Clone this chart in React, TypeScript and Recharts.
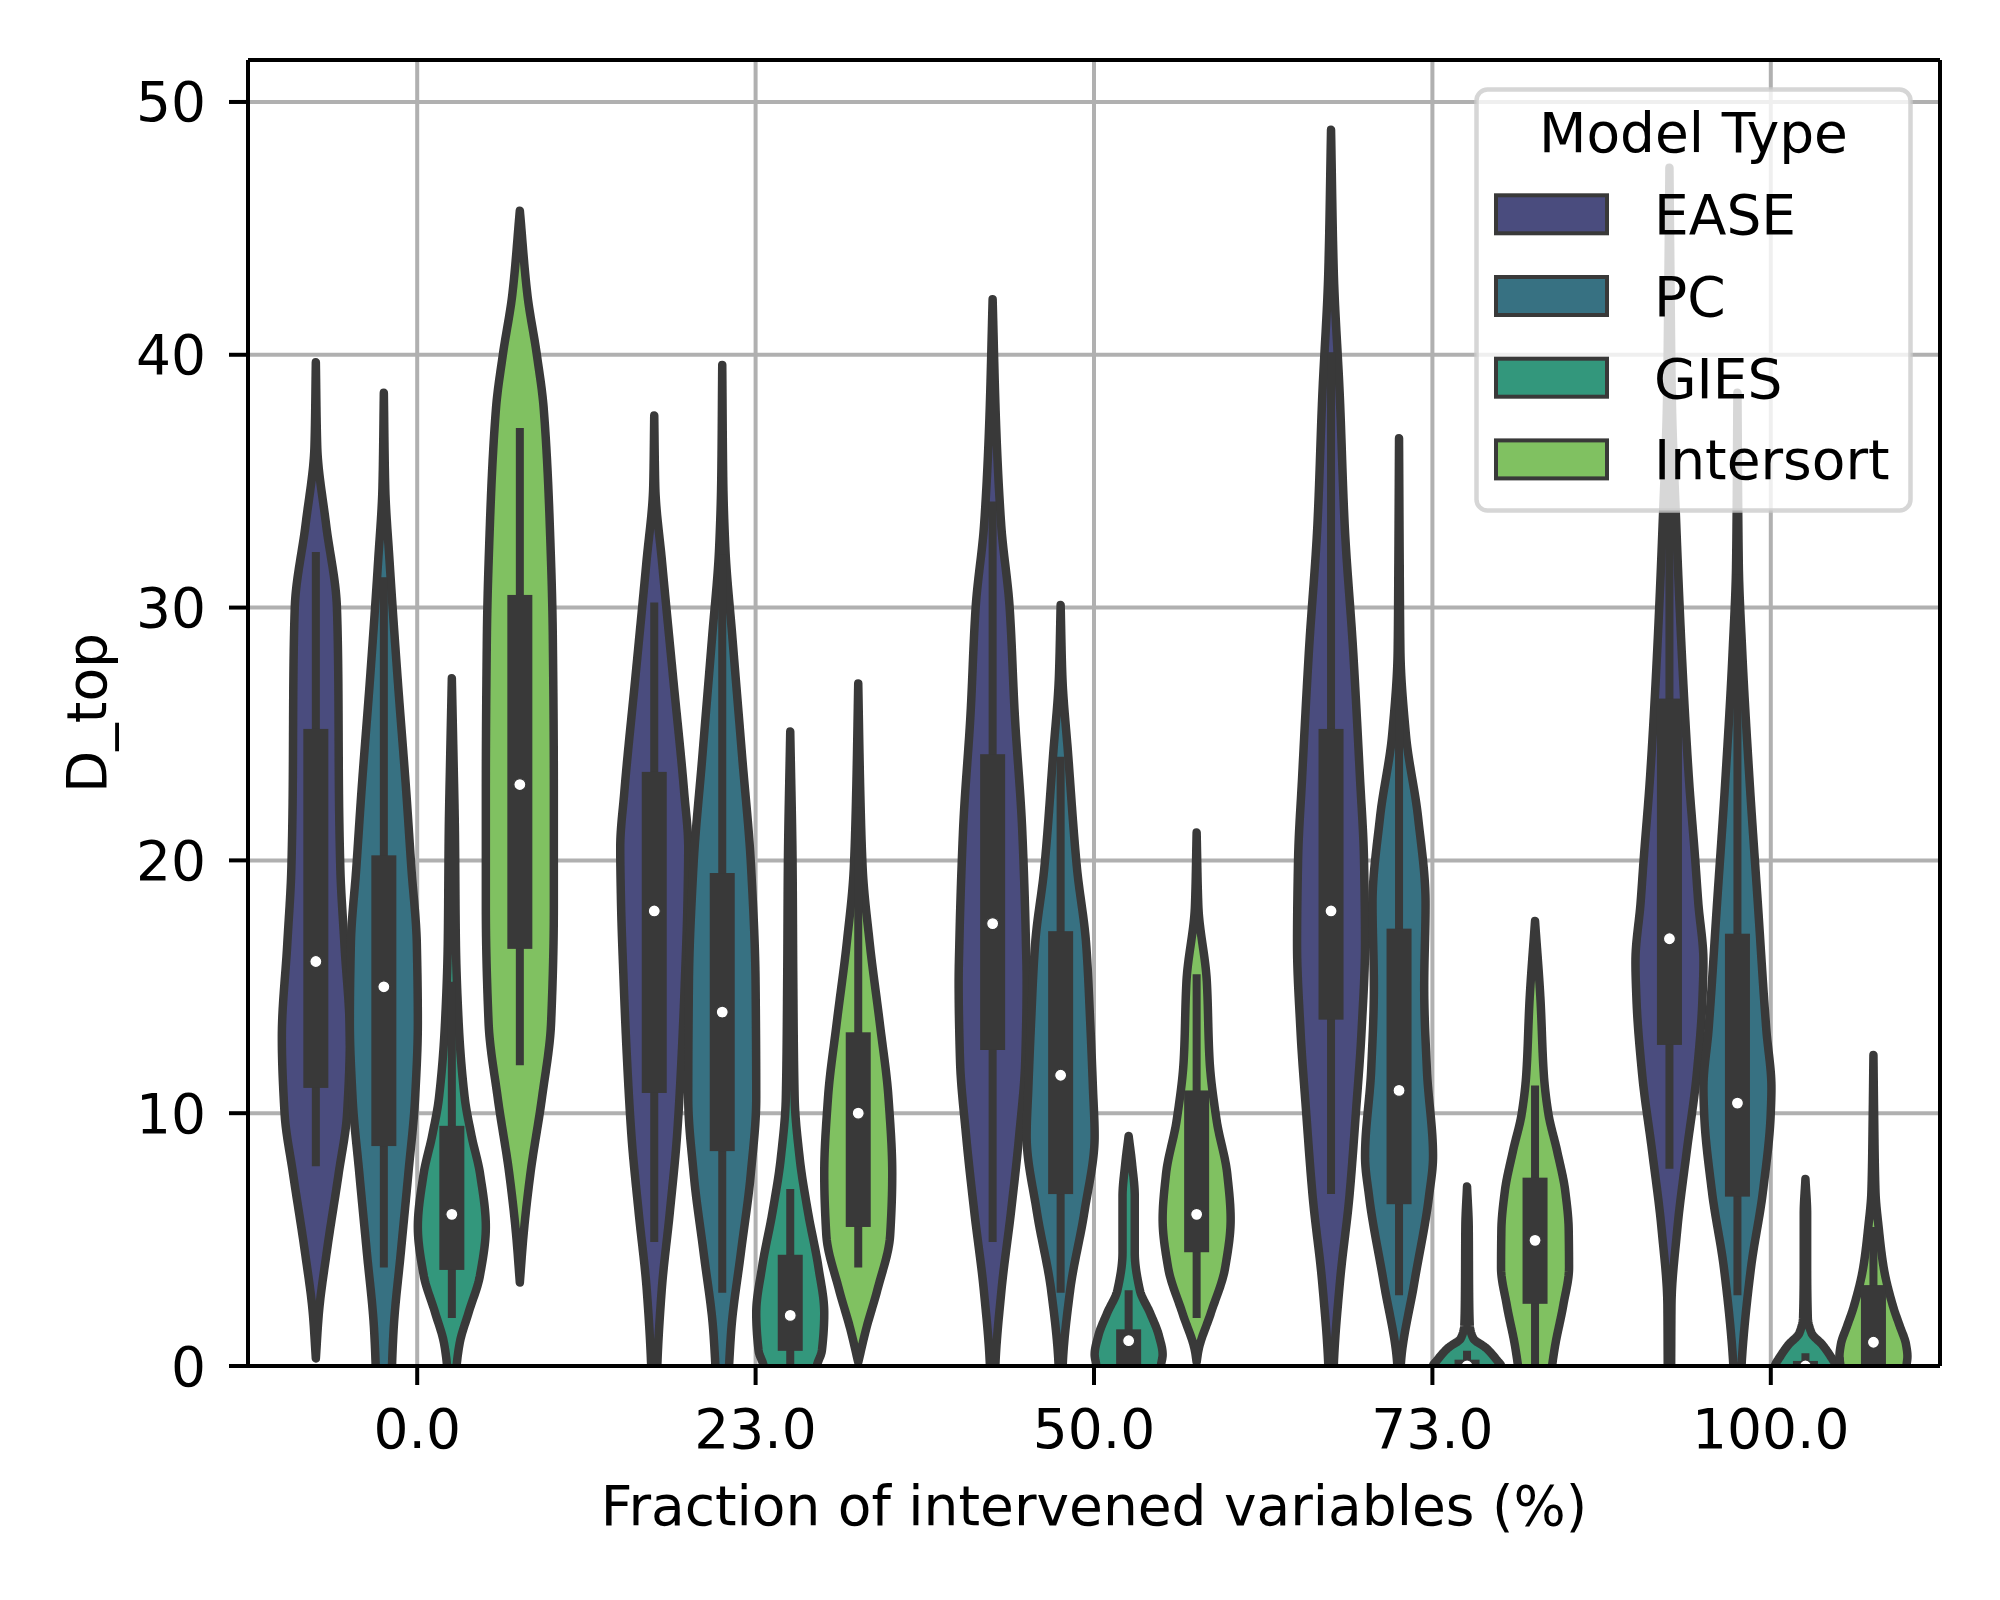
import React from 'react';
import { ComposedChart, Bar, XAxis, YAxis, CartesianGrid } from 'recharts';

const FONT = 'DejaVu Sans, sans-serif';
const GRAY = '#393939';

const categories = ['0.0', '23.0', '50.0', '73.0', '100.0'];
const seriesNames = ['EASE', 'PC', 'GIES', 'Intersort'];
const seriesColors = ['#4a4c7e', '#377182', '#33977c', '#80c161'];
const yTicks = [0, 10, 20, 30, 40, 50];
const yMax = 51.66;

// violin outlines: [value, relative half width]; one list per category
const easeProfiles: number[][][] = [
  [[0.3, 0], [2.1, 0.09], [4.5, 0.32], [7.6, 0.67], [10, 0.92], [13, 1], [16.7, 0.84], [19.7, 0.72], [22.7, 0.68], [27.3, 0.66], [30, 0.62], [33.3, 0.3], [36.4, 0.04], [39.7, 0]],
  [[-2, 0.05], [0, 0.09], [3, 0.22], [6.1, 0.46], [9.1, 0.67], [12.1, 0.8], [15.2, 0.9], [18.5, 0.98], [20.5, 1], [22.7, 0.88], [27.3, 0.55], [31.8, 0.23], [34.8, 0.03], [37.6, 0]],
  [[-2, 0.04], [0, 0.08], [3, 0.26], [6.1, 0.54], [9.1, 0.78], [12.1, 0.96], [15.2, 1], [16.7, 0.98], [21.2, 0.87], [25.8, 0.65], [30, 0.5], [33.3, 0.25], [37.3, 0.1], [42.2, 0]],
  [[-2, 0.04], [0, 0.08], [3.3, 0.26], [6.7, 0.54], [10, 0.73], [13.3, 0.9], [16.7, 1], [20, 0.97], [23.3, 0.85], [28.3, 0.65], [33.3, 0.4], [38.3, 0.26], [43.3, 0.08], [48.9, 0]],
  [[-2, 0.04], [0, 0.05], [2.4, 0.06], [5.4, 0.23], [8.5, 0.51], [11.5, 0.8], [14.5, 0.97], [16, 1], [18.3, 0.85], [20, 0.76], [23.3, 0.57], [28.3, 0.36], [33.3, 0.2], [38.3, 0.07], [43, 0.03], [47.4, 0]],
];
const pcProfiles: number[][][] = [
  [[-2, 0.2], [0, 0.24], [1.5, 0.29], [4.5, 0.5], [7.6, 0.72], [10.6, 0.92], [13.6, 1], [16.7, 0.97], [19.7, 0.81], [22.7, 0.66], [27.3, 0.4], [31.8, 0.17], [34.8, 0.04], [38.5, 0]],
  [[-2, 0.12], [0, 0.2], [1.5, 0.27], [4.5, 0.55], [7.6, 0.84], [10.6, 1], [15.2, 0.98], [19.7, 0.85], [24.2, 0.58], [28.8, 0.3], [32.4, 0.09], [35, 0.03], [39.6, 0]],
  [[-2, 0.02], [0, 0.06], [3, 0.28], [6.1, 0.7], [9.1, 1], [11, 0.95], [13.6, 0.87], [16.7, 0.75], [19.7, 0.48], [24.2, 0.22], [27.3, 0.05], [30.1, 0]],
  [[-2, 0], [0, 0.05], [3.3, 0.45], [6.7, 0.88], [8.3, 1], [11.7, 0.82], [15, 0.74], [18.3, 0.78], [21.7, 0.56], [25, 0.2], [28.3, 0.04], [31.7, 0.02], [36.7, 0]],
  [[-2, 0.05], [0, 0.12], [0.8, 0.16], [3.9, 0.4], [6.9, 0.75], [10, 0.98], [11, 1], [13.3, 0.85], [18.3, 0.6], [23.3, 0.35], [28.3, 0.14], [31.7, 0.04], [38.5, 0]],
];
const giesProfiles: number[][][] = [
  [[-2, 0.05], [0, 0.14], [0.9, 0.23], [2.1, 0.49], [3.6, 0.83], [5.5, 1], [7.6, 0.83], [9.1, 0.58], [10.6, 0.38], [13.6, 0.2], [16.7, 0.12], [21.2, 0.09], [24, 0.05], [27.2, 0]],
  [[-2, 0.6], [0, 0.78], [0.6, 0.93], [2.1, 1], [3.9, 0.83], [6.1, 0.52], [8.2, 0.28], [10.6, 0.13], [15.2, 0.09], [19.7, 0.07], [25.1, 0]],
  [[-2, 0.9], [0, 0.95], [0.45, 1], [1.2, 0.89], [2.1, 0.63], [3, 0.33], [4.5, 0.18], [6.7, 0.18], [8, 0.1], [9.1, 0]],
  [[-2, 0.9], [-0.3, 1], [0, 1], [0.23, 0.88], [0.7, 0.57], [1.1, 0.18], [1.6, 0.08], [3, 0.06], [5.5, 0.05], [7.1, 0]],
  [[-2, 0.95], [-1, 1], [0, 0.9], [0.38, 0.74], [0.84, 0.5], [1.3, 0.18], [1.9, 0.07], [4, 0.05], [6, 0.05], [7.4, 0]],
];
const intersortProfiles: number[][][] = [
  [[3.3, 0], [5.2, 0.11], [7.6, 0.31], [10.6, 0.65], [13.6, 0.92], [18.2, 1], [22.7, 1], [28.8, 0.97], [33.3, 0.88], [37.9, 0.7], [40, 0.5], [42.4, 0.22], [45.7, 0]],
  [[0.15, 0], [1.5, 0.24], [3, 0.56], [5.2, 0.94], [7.6, 1], [10.6, 0.89], [13.6, 0.63], [16.7, 0.34], [19.7, 0.13], [22.7, 0.06], [27, 0]],
  [[0.15, 0], [0.6, 0.05], [2.1, 0.42], [3.9, 0.84], [5.8, 1], [7.6, 0.9], [9.7, 0.59], [12.1, 0.38], [15.2, 0.3], [18.2, 0.05], [21.1, 0]],
  [[-2, 0.3], [0, 0.5], [0.8, 0.59], [2.4, 0.83], [3.9, 1], [5.4, 0.99], [6.9, 0.89], [8.5, 0.65], [10, 0.39], [11.5, 0.26], [14.5, 0.16], [17.6, 0]],
  [[-2, 0.85], [0, 0.97], [0.38, 1], [0.84, 0.96], [1.6, 0.77], [2.3, 0.59], [3.9, 0.3], [5.4, 0.16], [6.9, 0.06], [10, 0.02], [12.3, 0]],
];

// inner boxes: [lower whisker, q1, median, q3, upper whisker]
const easeBoxes = [[7.9, 11.0, 16.0, 25.2, 32.2], [4.9, 10.8, 18.0, 23.5, 30.2], [4.9, 12.5, 17.5, 24.2, 34.2], [6.8, 13.7, 18.0, 25.2, 40.1], [7.8, 12.7, 16.9, 26.4, 40.0]];
const pcBoxes = [[3.9, 8.7, 15.0, 20.2, 31.2], [2.9, 8.5, 14.0, 19.5, 32.1], [2.9, 6.8, 11.5, 17.2, 24.1], [2.8, 6.4, 10.9, 17.3, 30.3], [2.8, 6.7, 10.4, 17.1, 31.3]];
const giesBoxes = [[1.9, 3.8, 6.0, 9.5, 15.2], [0, 0.6, 2.0, 4.4, 7.0], [0, 0, 1.0, 1.45, 3.0], [0, 0, 0, 0.25, 0.6], [0, 0, 0, 0.2, 0.5]];
const intersortBoxes = [[11.9, 16.5, 23.0, 30.5, 37.1], [3.9, 5.5, 10.0, 13.2, 22.1], [1.9, 4.5, 6.0, 10.9, 15.5], [0, 2.46, 4.97, 7.45, 11.1], [0, 0, 0.94, 3.2, 5.5]];

const profiles = [easeProfiles, pcProfiles, giesProfiles, intersortProfiles];
const boxes = [easeBoxes, pcBoxes, giesBoxes, intersortBoxes];

const data = categories.map((cat, i) => {
  const row: any = { cat, idx: i };
  seriesNames.forEach((s, k) => {
    const p = profiles[k][i];
    row[s] = p[p.length - 1][0];
  });
  return row;
});

function monotone(xs: number[], ys: number[]) {
  const n = xs.length;
  const dx: number[] = [];
  const s: number[] = [];
  for (let i = 0; i < n - 1; i++) {
    dx.push(xs[i + 1] - xs[i]);
    s.push((ys[i + 1] - ys[i]) / dx[i]);
  }
  const m: number[] = new Array(n).fill(0);
  m[0] = s[0];
  m[n - 1] = s[n - 2];
  for (let i = 1; i < n - 1; i++) {
    if (s[i - 1] * s[i] <= 0) m[i] = 0;
    else m[i] = (3 * (dx[i - 1] + dx[i])) / ((2 * dx[i] + dx[i - 1]) / s[i - 1] + (dx[i] + 2 * dx[i - 1]) / s[i]);
  }
  return (x: number) => {
    let i = 0;
    while (i < n - 2 && x > xs[i + 1]) i++;
    const h = dx[i];
    const t = Math.min(1, Math.max(0, (x - xs[i]) / h));
    const t2 = t * t;
    const t3 = t2 * t;
    return (2 * t3 - 3 * t2 + 1) * ys[i] + (t3 - 2 * t2 + t) * h * m[i] + (-2 * t3 + 3 * t2) * ys[i + 1] + (t3 - t2) * h * m[i + 1];
  };
}

function makeViolin(k: number) {
  return (props: any) => {
    const { x, y, width, height, payload } = props;
    if (!payload || !height) return <g />;
    const i = payload.idx;
    const prof = profiles[k][i];
    const top = prof[prof.length - 1][0];
    const unit = height / top;
    const y0 = y + height;
    const py = (v: number) => y0 - v * unit;
    const cx = x + width / 2;
    const hw = width / 2;
    const vs = prof.map((p) => p[0]);
    const ws = prof.map((p) => p[1]);
    const f = monotone(vs, ws);
    const N = 300;
    const right: number[][] = [];
    for (let j = 0; j <= N; j++) {
      const v = vs[0] + ((vs[vs.length - 1] - vs[0]) * j) / N;
      const w = Math.max(0, f(v));
      right.push([cx + w * hw, py(v)]);
    }
    const left = right.slice().reverse().map(([px, pyy]) => [2 * cx - px, pyy]);
    const pts = right.concat(left);
    const d = 'M' + pts.map((p) => p[0].toFixed(2) + ',' + p[1].toFixed(2)).join('L') + 'Z';
    const [wl, q1, med, q3, wh] = boxes[k][i];
    const id = `vclip-${k}-${i}`;
    return (
      <g>
        <defs>
          <clipPath id={id}>
            <rect x={x - width} y={y - 40} width={width * 3} height={y0 - y + 40} />
          </clipPath>
        </defs>
        <g clipPath={`url(#${id})`}>
          <path d={d} fill={seriesColors[k]} stroke={GRAY} strokeWidth={8.5} strokeLinejoin="round" />
          <line x1={cx} x2={cx} y1={py(wl)} y2={py(wh)} stroke={GRAY} strokeWidth={8} />
          {q3 > q1 && <rect x={cx - 12.5} width={25} y={py(q3)} height={py(q1) - py(q3)} fill={GRAY} />}
          <circle cx={cx} cy={py(med)} r={6} fill="#fff" stroke={GRAY} strokeWidth={1.2} />
        </g>
      </g>
    );
  };
}

const renderYLabel = (props: any) => {
  const vb = props && props.viewBox ? props.viewBox : { x: 0, y: 60, width: 248, height: 1306 };
  const cx = vb.x + 106;
  const cy = vb.y + vb.height / 2;
  return (
    <text x={cx} y={cy} transform={`rotate(-90 ${cx} ${cy})`} textAnchor="middle" fill="#000" fontSize={55} fontFamily={FONT}>
      D_top
    </text>
  );
};

function LegendBox() {
  return (
    <svg width={440} height={428} style={{ position: 'absolute', left: 1474, top: 87 }}>
      <rect x={2.5} y={2.5} width={434} height={421} rx={11} fill="rgba(255,255,255,0.8)" stroke="#cccccc" strokeOpacity={0.8} strokeWidth={4.5} />
      <text x={219.5} y={64.7} textAnchor="middle" fontSize={55} fontFamily={FONT} fill="#000">
        Model Type
      </text>
      {seriesNames.map((s, k) => (
        <g key={s}>
          <rect x={22} y={108.3 + k * 81.7} width={111} height={38} fill={seriesColors[k]} stroke={GRAY} strokeWidth={4} />
          <text x={180} y={147.3 + k * 81.7} fontSize={55} fontFamily={FONT} fill="#000">
            {s}
          </text>
        </g>
      ))}
    </svg>
  );
}

export default function App() {
  const tickStyle = { fill: '#000', fontSize: 55, fontFamily: FONT };
  const lineStyle = { stroke: '#000', strokeWidth: 4 };
  return (
    <div style={{ position: 'absolute', left: 0, top: 0, width: 2000, height: 1600, background: '#fff' }}>
      <ComposedChart width={2000} height={1600} data={data} margin={{ top: 59, right: 59, bottom: 0, left: 0 }} barCategoryGap="10%" barGap={0}>
        <CartesianGrid stroke="#b0b0b0" strokeWidth={4} />
        {seriesNames.map((s, k) => (
          <Bar key={s} dataKey={s} fill={seriesColors[k]} isAnimationActive={false} shape={makeViolin(k)} />
        ))}
        <XAxis
          dataKey="cat"
          height={234}
          tickSize={19}
          tickMargin={24}
          interval={0}
          tick={tickStyle}
          tickLine={lineStyle}
          axisLine={lineStyle}
          label={{ value: 'Fraction of intervened variables (%)', position: 'insideBottom', offset: 75, fill: '#000', fontSize: 55, fontFamily: FONT }}
        />
        <XAxis xAxisId="top" orientation="top" dataKey="cat" height={1} tick={false} tickLine={false} axisLine={lineStyle} />
        <YAxis
          type="number"
          width={248}
          domain={[0, yMax]}
          ticks={yTicks}
          allowDataOverflow
          tickSize={19}
          tickMargin={23}
          tick={tickStyle}
          tickLine={lineStyle}
          axisLine={lineStyle}
          label={renderYLabel}
        />
        <YAxis yAxisId="right" orientation="right" type="number" width={1} domain={[0, yMax]} allowDataOverflow tick={false} tickLine={false} axisLine={lineStyle} />
      </ComposedChart>
      <LegendBox />
    </div>
  );
}
